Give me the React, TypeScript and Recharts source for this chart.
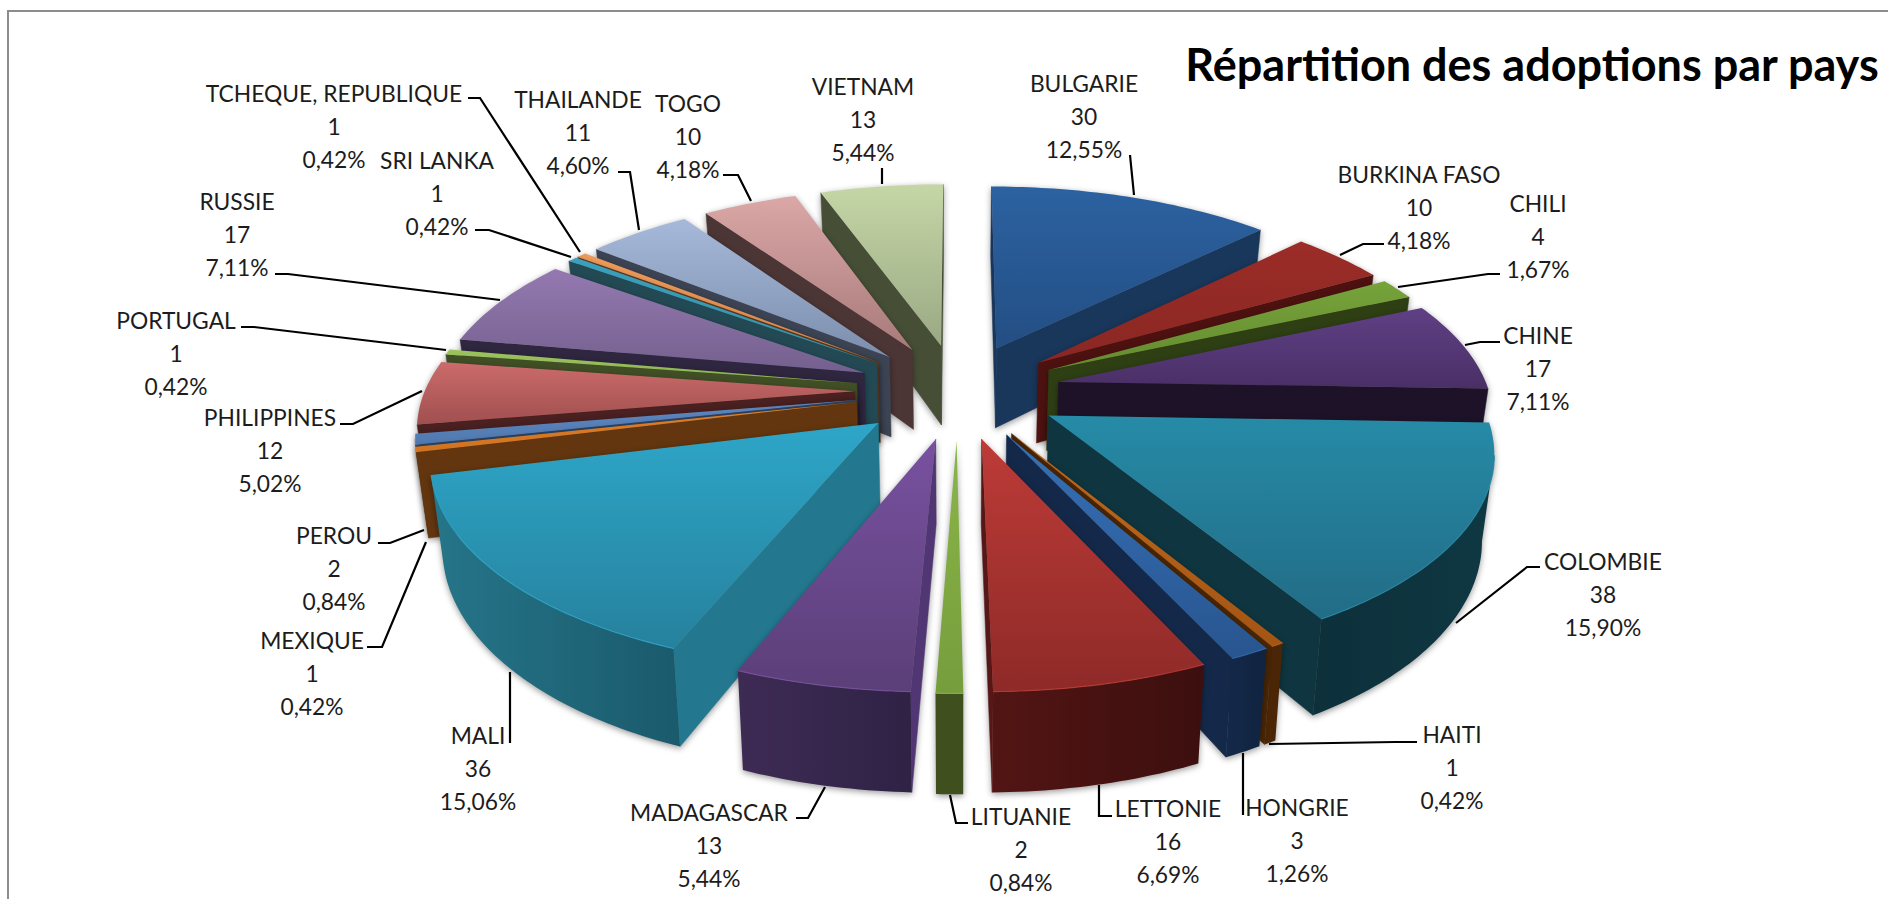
import { PieChart, Pie } from 'recharts';

const countries = [
  'BULGARIE', 'BURKINA FASO', 'CHILI', 'CHINE', 'COLOMBIE', 'HAITI', 'HONGRIE', 'LETTONIE', 'LITUANIE',
  'MADAGASCAR', 'MALI', 'MEXIQUE', 'PEROU', 'PHILIPPINES', 'PORTUGAL', 'RUSSIE', 'SRI LANKA',
  'TCHEQUE, REPUBLIQUE', 'THAILANDE', 'TOGO', 'VIETNAM',
];
const adoptions = [30, 10, 4, 17, 38, 1, 3, 16, 2, 13, 36, 1, 2, 12, 1, 17, 1, 1, 11, 10, 13];

// top light, top dark, radial wall, outer wall left, outer wall right
const palette: Record<string, string[]> = {
  BULGARIE: ['#2c62a1', '#234e83', '#19375b', '#1b3a60', '#17314f'],
  'BURKINA FASO': ['#9c2c27', '#8a2723', '#4d1210', '#4d1210', '#4d1210'],
  CHILI: ['#76a33a', '#658b30', '#2e3f14', '#33451a', '#2e3f14'],
  CHINE: ['#5f4085', '#4a2f66', '#1e1228', '#1e1228', '#1e1228'],
  COLOMBIE: ['#268ba7', '#226c86', '#0f3640', '#0d303b', '#0f3842'],
  HAITI: ['#c2691c', '#a35514', '#4a2606', '#4a2606', '#4a2606'],
  HONGRIE: ['#3671b8', '#28558f', '#14294a', '#14294a', '#10233f'],
  LETTONIE: ['#bd3b37', '#8e2a28', '#571716', '#521514', '#3c0f0e'],
  LITUANIE: ['#8ab648', '#769d3c', '#3f4f1d', '#3f4f1d', '#3f4f1d'],
  MADAGASCAR: ['#7851a0', '#5b3f78', '#503672', '#3e2b55', '#2f2245'],
  MALI: ['#2ea6c8', '#26819d', '#23788f', '#267589', '#1a5a6c'],
  MEXIQUE: ['#e07f28', '#d07320', '#63360f', '#63360f', '#542d0c'],
  PEROU: ['#6089c2', '#5079b0', '#2c4565', '#2c4565', '#2c4565'],
  PHILIPPINES: ['#cc6b6b', '#a04f4f', '#4a2020', '#4a2020', '#4a2020'],
  PORTUGAL: ['#9bc35e', '#8cb350', '#414f26', '#414f26', '#414f26'],
  RUSSIE: ['#9479b0', '#74608e', '#2f2640', '#2f2640', '#2f2640'],
  'SRI LANKA': ['#3aa0bc', '#3391ab', '#234a54', '#234a54', '#234a54'],
  'TCHEQUE, REPUBLIQUE': ['#ee9a5a', '#e08a4a', '#5c3a20', '#5c3a20', '#5c3a20'],
  THAILANDE: ['#a6b9da', '#7c8eac', '#3c4454', '#3c4454', '#3c4454'],
  TOGO: ['#dba7a7', '#a87a7a', '#4c3535', '#4c3535', '#4c3535'],
  VIETNAM: ['#c5d6a6', '#9aa984', '#464f36', '#464f36', '#464f36'],
};

// excel placed these by hand: centre of the first text line, then the leader line
const labelSpots: Record<string, { x: number; y: number; leader: number[][] }> = {
  BULGARIE: { x: 1084, y: 83, leader: [[1130, 155], [1134, 195]] },
  'BURKINA FASO': { x: 1419, y: 174, leader: [[1384, 244], [1363, 244], [1340, 255]] },
  CHILI: { x: 1538, y: 203, leader: [[1500, 274], [1488, 274], [1398, 287]] },
  CHINE: { x: 1538, y: 335, leader: [[1500, 342], [1480, 342], [1465, 345]] },
  COLOMBIE: { x: 1603, y: 561, leader: [[1540, 567], [1527, 567], [1456, 623]] },
  HAITI: { x: 1452, y: 734, leader: [[1417, 742], [1395, 742], [1269, 744]] },
  HONGRIE: { x: 1297, y: 807, leader: [[1243, 815], [1243, 753]] },
  LETTONIE: { x: 1168, y: 808, leader: [[1112, 816], [1099, 816], [1099, 785]] },
  LITUANIE: { x: 1021, y: 816, leader: [[968, 823], [956, 823], [950, 795]] },
  MADAGASCAR: { x: 709, y: 812, leader: [[796, 818], [808, 818], [825, 787]] },
  MALI: { x: 478, y: 735, leader: [[510, 743], [510, 672]] },
  MEXIQUE: { x: 312, y: 640, leader: [[367, 647], [382, 647], [426, 542]] },
  PEROU: { x: 334, y: 535, leader: [[378, 543], [390, 543], [424, 530]] },
  PHILIPPINES: { x: 270, y: 417, leader: [[340, 424], [353, 424], [422, 391]] },
  PORTUGAL: { x: 176, y: 320, leader: [[241, 327], [254, 327], [446, 350]] },
  RUSSIE: { x: 237, y: 201, leader: [[275, 274], [288, 274], [500, 300]] },
  'SRI LANKA': { x: 437, y: 160, leader: [[475, 230], [489, 230], [571, 257]] },
  'TCHEQUE, REPUBLIQUE': { x: 334, y: 93, leader: [[468, 98], [480, 98], [580, 252]] },
  THAILANDE: { x: 578, y: 99, leader: [[618, 172], [630, 172], [639, 230]] },
  TOGO: { x: 688, y: 103, leader: [[723, 175], [738, 175], [751, 201]] },
  VIETNAM: { x: 863, y: 86, leader: [[882, 168], [882, 184]] },
};

const rows = countries.map((name, i) => ({ name, value: adoptions[i] }));
const total = adoptions.reduce((a, b) => a + b, 0);

// the front half is split so slices can be painted from the back to the front
const splitAt = countries.indexOf('MADAGASCAR');
const rightRows = rows.slice(0, splitAt);
const leftRows = rows.slice(splitAt).reverse();
const sumOf = (list: typeof rows) => list.reduce((a, r) => a + r.value, 0);

const RAD = Math.PI / 180;
const TILT = 0.461;
const PERSPECTIVE = 0.151;
const EXPLODE = 0.24;
const DEPTH = 82;
const BOTTOM_SHRINK = 0.977;
const FONT = 'Lato, sans-serif';

function point(props: any, theta: number, r: number) {
  const { cx, cy, outerRadius: R } = props;
  const mid = (90 - props.midAngle) * RAD;
  const t = theta * RAD;
  const X = EXPLODE * R * Math.sin(mid) + r * R * Math.sin(t);
  const Y = -EXPLODE * R * Math.cos(mid) - r * R * Math.cos(t);
  const s = 1 / (1 - (PERSPECTIVE * Y) / R);
  return { x: cx + X * s, y: cy + TILT * Y * s, s };
}

function lower(props: any, p: { x: number; y: number; s: number }) {
  return { x: props.cx + (p.x - props.cx) * BOTTOM_SHRINK, y: p.y + DEPTH * p.s };
}

const toPath = (pts: { x: number; y: number }[], close = true) =>
  pts.map((p, i) => `${i ? 'L' : 'M'}${p.x.toFixed(1)} ${p.y.toFixed(1)}`).join(' ') + (close ? ' Z' : '');

function SliceShape(props: any) {
  const name = props.name ?? props.payload?.name;
  const [topLight, topDark, side, rimA, rimB] = palette[name];
  const a = 90 - props.startAngle;
  const b = 90 - props.endAngle;
  const from = Math.min(a, b);
  const to = Math.max(a, b);
  const steps = Math.max(2, Math.ceil(to - from));
  const rim = Array.from({ length: steps + 1 }, (_, i) => point(props, from + ((to - from) * i) / steps, 1));
  const apex = point(props, from, 0);
  const inside = point(props, (from + to) / 2, 0.6);
  const id = name.replace(/[^A-Z]/g, '');

  const wallShows = (edge: { x: number; y: number }) => {
    const dx = edge.x - apex.x;
    if (Math.abs(dx) < 0.5) return false;
    const yOnLine = apex.y + ((edge.y - apex.y) * (inside.x - apex.x)) / dx;
    return inside.y < yOnLine;
  };
  const radialWalls = [rim[0], rim[steps]].filter(wallShows).map((edge) =>
    toPath([apex, edge, lower(props, edge), lower(props, apex)]),
  );

  // the outer wall only shows where the rim runs from right to left
  const front = rim.filter((p, i) =>
    (i < steps && rim[i + 1].x < p.x) || (i > 0 && p.x < rim[i - 1].x),
  );
  const outer = front.length > 1 ? toPath([...front, ...[...front].reverse().map((p) => lower(props, p))]) : null;

  return (
    <g style={{ filter: 'drop-shadow(0px 2px 3px rgba(0,0,0,0.4))' }}>
      <defs>
        <linearGradient id={`top${id}`} x1="0" y1="0" x2="0" y2="1">
          <stop offset="0%" stopColor={topLight} />
          <stop offset="100%" stopColor={topDark} />
        </linearGradient>
        <linearGradient id={`wall${id}`} x1="0" y1="0" x2="1" y2="0">
          <stop offset="0%" stopColor={rimA} />
          <stop offset="100%" stopColor={rimB} />
        </linearGradient>
      </defs>
      {radialWalls.map((d, i) => (
        <path key={i} d={d} fill={side} stroke={side} strokeWidth={0.5} />
      ))}
      {outer && <path d={outer} fill={`url(#wall${id})`} />}
      <path d={toPath([apex, ...rim])} fill={`url(#top${id})`} />
      {front.length > 1 && (
        <path d={toPath(front, false)} fill="none" stroke={topLight} strokeWidth={1.2} strokeOpacity={0.8} />
      )}
    </g>
  );
}

function SliceLabel(props: any) {
  const name = props.name ?? props.payload?.name;
  const spot = labelSpots[name];
  const share = ((props.value / total) * 100).toFixed(2).replace('.', ',');
  return (
    <g>
      <polyline
        points={spot.leader.map((p) => p.join(',')).join(' ')}
        fill="none"
        stroke="#000"
        strokeWidth={2.2}
      />
      {[name, String(props.value), `${share}%`].map((line, i) => (
        <text
          key={i}
          x={spot.x}
          y={spot.y + i * 33}
          textAnchor="middle"
          dominantBaseline="central"
          fill="#1c1c1c"
          fontFamily={FONT}
          fontSize={22.8}
        >
          {line}
        </text>
      ))}
    </g>
  );
}

export default function App() {
  return (
    <div style={{ position: 'absolute', left: 0, top: 0, width: 1888, height: 899, overflow: 'hidden', background: '#fff' }}>
      <div style={{ position: 'absolute', left: 7, top: 10, right: 0, bottom: 0, borderLeft: '2px solid #8c8c8c', borderTop: '2px solid #8c8c8c' }} />
      <div style={{ position: 'absolute', left: 0, top: 0 }}>
        <PieChart width={1888} height={899}>
          <Pie
            data={rightRows}
            dataKey="value"
            nameKey="name"
            cx={953}
            cy={386}
            outerRadius={430}
            startAngle={90}
            endAngle={90 - (360 * sumOf(rightRows)) / total}
            shape={SliceShape}
            label={SliceLabel}
            labelLine={false}
            isAnimationActive={false}
          />
          <Pie
            data={leftRows}
            dataKey="value"
            nameKey="name"
            cx={953}
            cy={386}
            outerRadius={430}
            startAngle={90}
            endAngle={90 + (360 * sumOf(leftRows)) / total}
            shape={SliceShape}
            label={SliceLabel}
            labelLine={false}
            isAnimationActive={false}
          />
          <text x={1532} y={64} textAnchor="middle" dominantBaseline="central" fontFamily={FONT} fontWeight={700} fontSize={45} fill="#000">
            Répartition des adoptions par pays
          </text>
        </PieChart>
      </div>
    </div>
  );
}
